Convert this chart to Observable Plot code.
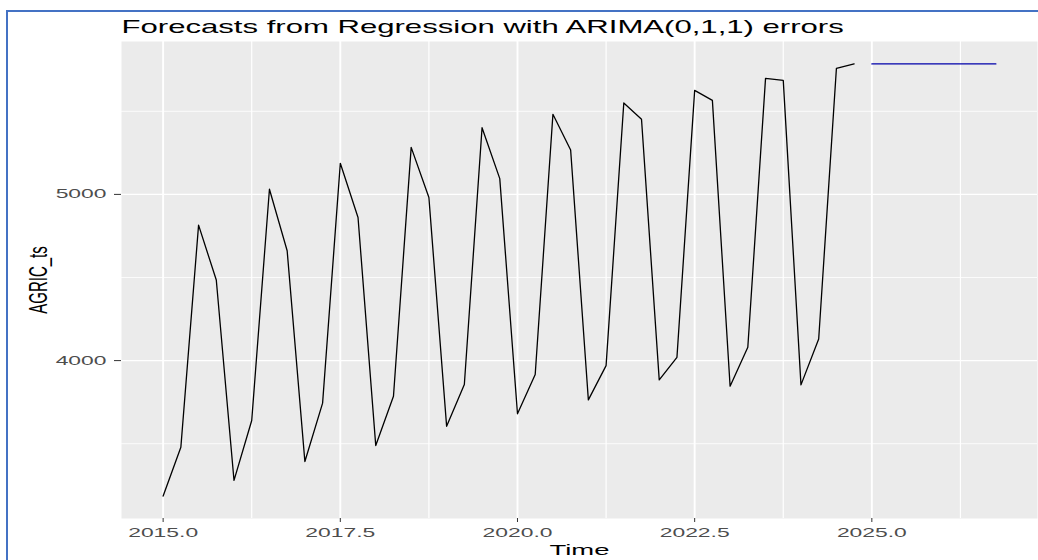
<!DOCTYPE html>
<html>
<head>
<meta charset="utf-8">
<script src="https://cdn.jsdelivr.net/npm/d3@7"></script>
<script src="https://cdn.jsdelivr.net/npm/@observablehq/plot@0.6"></script>
<style>
  html, body { margin: 0; padding: 0; overflow: hidden; background: #fff; }
  #chart { position: absolute; left: 0; top: 0; }
  #frame { position: absolute; left: 6px; top: 10px; width: 1030px; height: 548px;
           border-left: 2px solid #4472C4; border-top: 2px solid #4472C4; pointer-events: none; }
</style>
</head>
<body>
<div id="chart"></div>
<div id="frame"></div>
<script>
// ---- data ----
const titleText = "Forecasts from Regression with ARIMA(0,1,1) errors";
const xLabel = "Time";
const yLabel = "AGRIC_ts";
const startYear = 2015;      // first observation, 2015 Q1
const frequency = 4;         // quarterly
const observed = [
  3185, 3479, 4815, 4485,
  3279, 3640, 5031, 4661,
  3393, 3744, 5187, 4861,
  3489, 3786, 5283, 4981,
  3605, 3856, 5401, 5095,
  3680, 3916, 5482, 5267,
  3764, 3970, 5550, 5452,
  3884, 4020, 5626, 5566,
  3846, 4080, 5698, 5686,
  3854, 4130, 5758, 5785
];
const forecastStart = 2025;
const forecast = [5785, 5785, 5785, 5785, 5785, 5785, 5785, 5785];
const xMajorTicks = [2015, 2017.5, 2020, 2022.5, 2025];
const xMinorTicks = [2016.25, 2018.75, 2021.25, 2023.75, 2026.25];
const yMajorTicks = [4000, 5000];
const yMinorTicks = [3500, 4500, 5500];

const obsData = observed.map((v, i) => ({time: startYear + i / frequency, value: v}));
const fcData = forecast.map((v, i) => ({time: forecastStart + i / frequency, value: v}));

const plot = Plot.plot({
  width: 1038,
  height: 560,
  marginLeft: 121,
  marginRight: 1,
  marginTop: 41,
  marginBottom: 42,
  style: {fontFamily: "'Liberation Sans', Arial, Helvetica, sans-serif", background: "white"},
  x: {domain: [2014.4125, 2027.3375]},
  y: {domain: [3050, 5920]},
  marks: [
    Plot.frame({fill: "#EBEBEB", stroke: null}),
    Plot.gridX(xMinorTicks, {stroke: "white", strokeOpacity: 1, strokeWidth: 1.2}),
    Plot.gridX(xMajorTicks, {stroke: "white", strokeOpacity: 1, strokeWidth: 1.9}),
    Plot.gridY(yMinorTicks, {stroke: "white", strokeOpacity: 1, strokeWidth: 0.8}),
    Plot.gridY(yMajorTicks, {stroke: "white", strokeOpacity: 1, strokeWidth: 1.3}),
    Plot.line(obsData, {x: "time", y: "value", stroke: "black", strokeWidth: 1.3}),
    Plot.line(fcData, {x: "time", y: "value", stroke: "#0000AA", strokeWidth: 1.3}),
    Plot.axisX(xMajorTicks, {tickSize: 4, tickPadding: 6, stroke: "#333333", fill: "#4D4D4D",
      fontSize: 12.5, tickFormat: d => d.toFixed(1), label: null}),
    Plot.axisY(yMajorTicks, {tickSize: 7, tickPadding: 8, stroke: "#333333", fill: "#4D4D4D",
      fontSize: 12.5, tickFormat: d => String(d), label: null}),
    Plot.text([titleText], {frameAnchor: "top-left", dy: -9, lineAnchor: "bottom", textAnchor: "start",
      fontSize: 17.7, fill: "black"}),
    Plot.text([xLabel], {frameAnchor: "bottom", dy: 36, lineAnchor: "bottom", textAnchor: "middle",
      fontSize: 15, fill: "black"}),
    Plot.text([yLabel], {frameAnchor: "left", dx: -75, rotate: -90, lineAnchor: "bottom", textAnchor: "middle",
      fontSize: 15, fill: "black"})
  ]
});

document.getElementById("chart").appendChild(plot);

// The reference picture is stretched horizontally: widen the glyphs the same way.
function stretch(el, sx, sy) {
  const t = el.getAttribute("transform") || "";
  const x = +el.getAttribute("x") || 0;
  const y = +el.getAttribute("y") || 0;
  el.setAttribute("transform", `${t} translate(${x},${y}) scale(${sx},${sy}) translate(${-x},${-y})`);
}
d3.select(plot).selectAll("text").each(function() {
  const s = this.textContent;
  if (s === titleText) {
    stretch(this, 722 / this.getComputedTextLength(), 1);
  } else if (s === xLabel) {
    stretch(this, 60 / this.getComputedTextLength(), 1);
  } else if (s === yLabel) {
    stretch(this, 1, 1.77);
  } else {
    stretch(this, 1.83, 1);
  }
});
</script>
</body>
</html>
